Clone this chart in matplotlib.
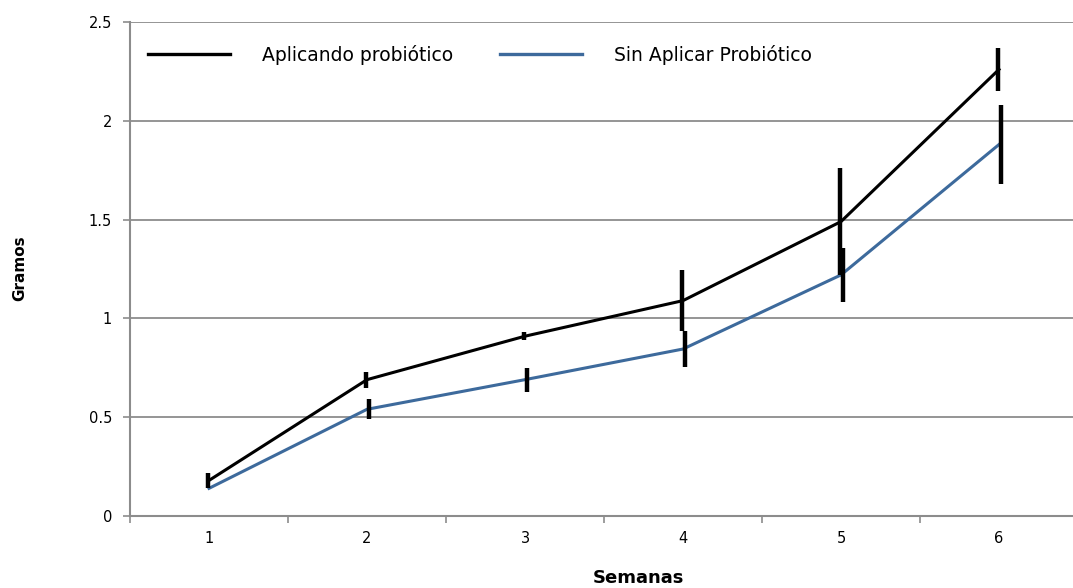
import numpy as np
import matplotlib
matplotlib.use("Agg")
import matplotlib.pyplot as plt
from matplotlib.transforms import offset_copy

semanas = [1, 2, 3, 4, 5, 6]
con_probiotico = [0.18, 0.69, 0.91, 1.09, 1.49, 2.26]
err_con = [0.04, 0.04, 0.02, 0.155, 0.27, 0.11]
sin_probiotico = [0.14, 0.54, 0.69, 0.845, 1.22, 1.88]
err_sin = [0.0, 0.05, 0.06, 0.09, 0.135, 0.20]

GRID = "#8c8c8c"
BLUE = "#3d6a9c"

W, H = 1073, 588
fig = plt.figure(figsize=(W / 100, H / 100), dpi=100)
ax = fig.add_axes([130 / W, (H - 516) / H, 948 / W, 494 / H])

ax.plot(semanas, con_probiotico, color="black", lw=2.2, label="Aplicando probiótico", zorder=3)
ax.plot(semanas, sin_probiotico, color=BLUE, lw=2.2, label="Sin Aplicar Probiótico", zorder=3)
# error bars sit a hair apart, as in the original chart
tr_left = offset_copy(ax.transData, fig=fig, x=-1, y=0, units="dots")
tr_right = offset_copy(ax.transData, fig=fig, x=2, y=0, units="dots")
ax.errorbar(semanas, con_probiotico, yerr=err_con, fmt="none", ecolor="black",
            elinewidth=3.2, capsize=0, zorder=4, transform=tr_left)
ax.errorbar(semanas, sin_probiotico, yerr=err_sin, fmt="none", ecolor="black",
            elinewidth=3.2, capsize=0, zorder=4, transform=tr_right)

ax.set_xlim(0.5, 6.5)
ax.set_ylim(0, 2.5)
ax.set_yticks([0, 0.5, 1, 1.5, 2, 2.5])
ax.set_yticklabels(["0", "0.5", "1", "1.5", "2", "2.5"])
ax.set_xticks(semanas)
ax.set_xticks(np.arange(0.5, 7, 1), minor=True)
ax.tick_params(axis="x", which="major", length=0, pad=11, labelsize=10.5)
ax.tick_params(axis="x", which="minor", length=5, color=GRID, width=1.2, direction="out")
ax.tick_params(axis="y", length=5, color=GRID, width=1.2, pad=8, labelsize=10.5)

ax.yaxis.grid(True, color=GRID, lw=1.3)
ax.set_axisbelow(True)
for s in ["top", "right"]:
    ax.spines[s].set_visible(False)
for s in ["left", "bottom"]:
    ax.spines[s].set_color(GRID)
    ax.spines[s].set_linewidth(1.5)

leg = ax.legend(loc="center left", bbox_to_anchor=((148 - 130) / 948, (516 - 55) / 494),
                ncol=2, frameon=False, fontsize=13.5, handlelength=4.37,
                handletextpad=1.7, columnspacing=2.5, borderpad=0, borderaxespad=0)
for l in leg.get_lines():
    l.set_linewidth(2.4)

fig.text(20 / W, 1 - 268 / H, "Gramos", rotation=90, ha="center", va="center",
         fontsize=11, fontweight="bold")
fig.text(638 / W, 1 - 578 / H, "Semanas", ha="center", va="center",
         fontsize=13, fontweight="bold")

fig.savefig("out.png", dpi=100)
